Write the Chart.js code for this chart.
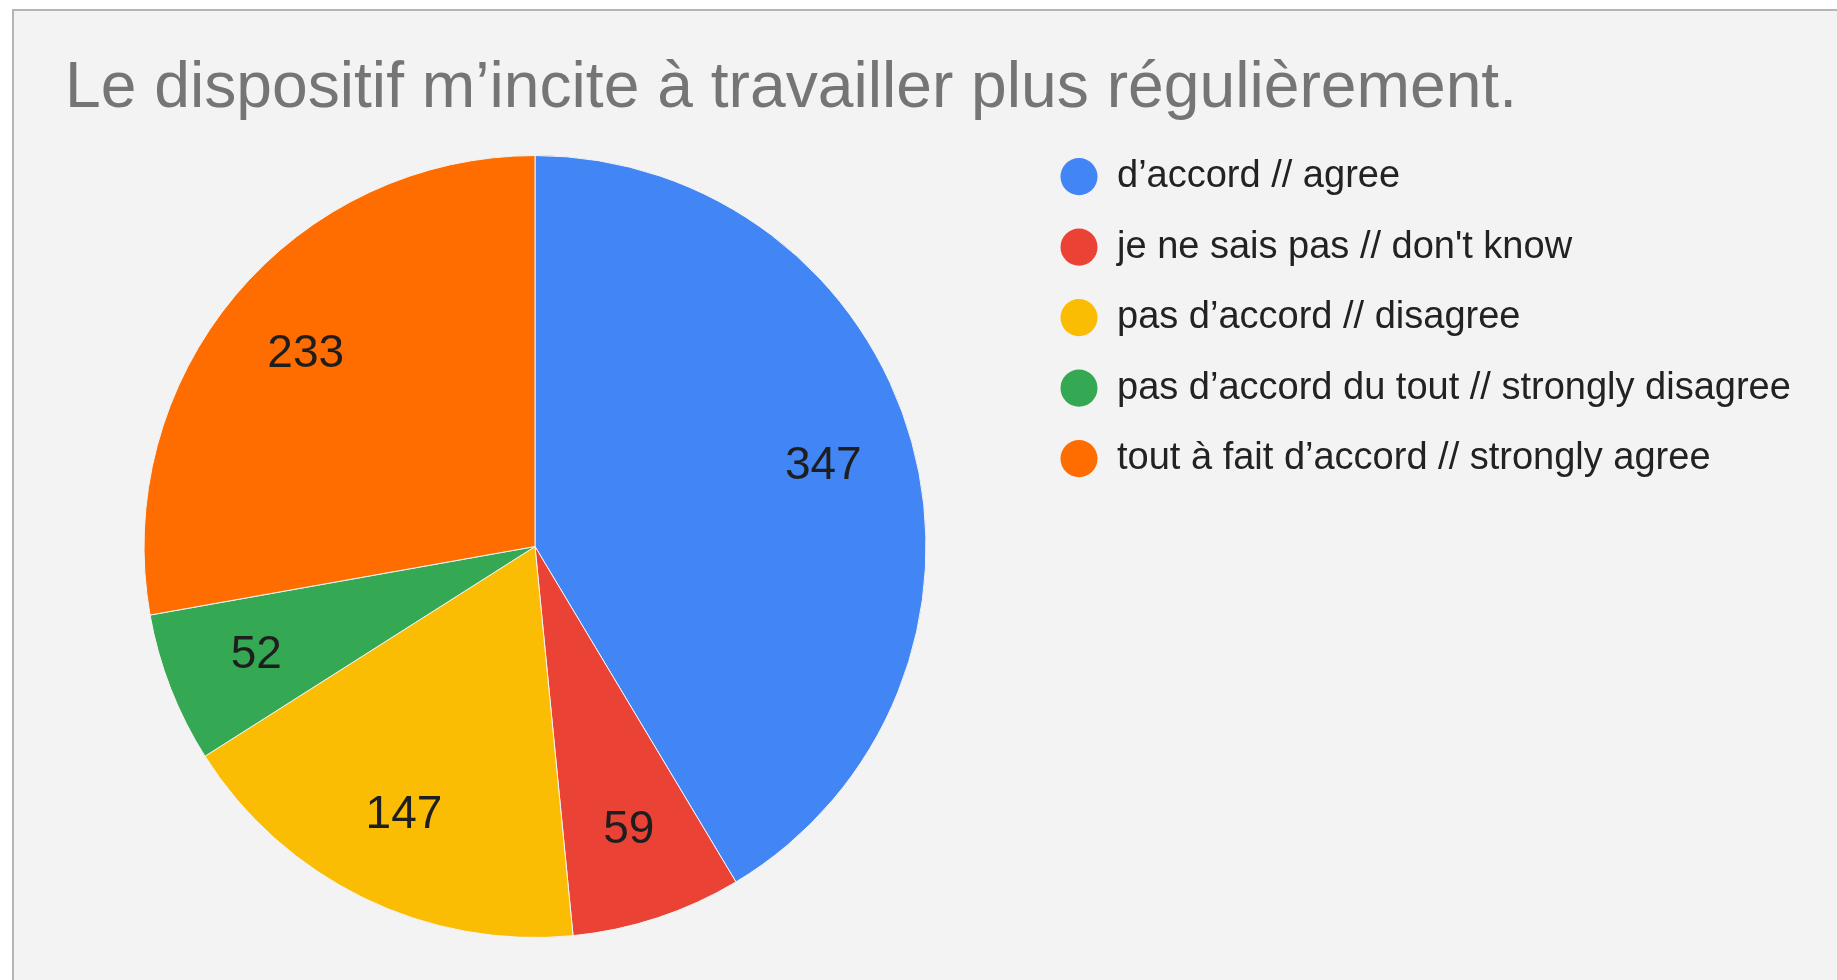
<!DOCTYPE html>
<html>
<head>
<meta charset="utf-8">
<script src="https://cdn.jsdelivr.net/npm/chart.js@4.4.1/dist/chart.umd.min.js"></script>
<style>
  html, body { margin: 0; padding: 0; background: #fff; overflow: hidden; }
  #panel {
    position: absolute; left: 12px; top: 9px; width: 1825px; height: 971px;
    background: #f3f3f3; border-left: 2px solid #b5b5b5; border-top: 2px solid #b5b5b5;
    box-sizing: border-box;
  }
  #chart { position: absolute; left: 0; top: 0; }
</style>
</head>
<body>
<div id="panel"></div>
<canvas id="chart" width="1837" height="980"></canvas>
<script>
// chart data
const titleText = 'Le dispositif m’incite à travailler plus régulièrement.';
const categories = [
  'd’accord // agree',
  'je ne sais pas // don\'t know',
  'pas d’accord // disagree',
  'pas d’accord du tout // strongly disagree',
  'tout à fait d’accord // strongly agree'
];
const counts = [347, 59, 147, 52, 233];
const sliceColors = ['#4285f4', '#ea4335', '#fbbc04', '#34a853', '#ff6d01'];

const FONT = '"Liberation Sans", Arial, sans-serif';
Chart.defaults.font.family = FONT;

// legend sizing: keep the legend's left edge at x=1005 so the pie sits at x=535
const legendPad = 55;
const legendFont = 38;
const measure = document.createElement('canvas').getContext('2d');
measure.font = legendFont + 'px ' + FONT;
const longest = Math.max(...categories.map(c => measure.measureText(c).width));
const legendWidth = legendPad + legendFont * 1.5 + longest + 10;
const padRight = Math.max(0, 1837 - 1005 - legendWidth);

// draws the count inside each slice
const sliceLabels = {
  id: 'sliceLabels',
  afterDatasetsDraw(chart) {
    const ctx = chart.ctx;
    const meta = chart.getDatasetMeta(0);
    ctx.save();
    ctx.font = '46px ' + FONT;
    ctx.fillStyle = '#1e1e1e';
    ctx.textAlign = 'center';
    ctx.textBaseline = 'middle';
    meta.data.forEach((arc, i) => {
      const p = arc.getProps(['x', 'y', 'startAngle', 'endAngle', 'outerRadius']);
      const mid = (p.startAngle + p.endAngle) / 2;
      const r = p.outerRadius * 0.765;
      ctx.fillText(String(counts[i]), p.x + Math.cos(mid) * r, p.y + Math.sin(mid) * r);
    });
    ctx.restore();
  }
};

const baseLabels = Chart.overrides.doughnut.plugins.legend.labels.generateLabels;

new Chart(document.getElementById('chart'), {
  type: 'pie',
  data: {
    labels: categories,
    datasets: [{
      data: counts,
      backgroundColor: sliceColors,
      borderColor: '#f3f3f3',
      borderWidth: 1,
      radius: 391
    }]
  },
  options: {
    responsive: false,
    animation: false,
    layout: { padding: { left: 65, right: padRight, top: 0, bottom: 15 } },
    plugins: {
      title: {
        display: true,
        text: titleText,
        align: 'start',
        color: '#757575',
        font: { size: 64.2, weight: 'normal', lineHeight: 1.2 },
        padding: { top: 51, bottom: 0 }
      },
      legend: {
        position: 'right',
        align: 'start',
        title: { display: true, text: '', padding: { top: 92.6, bottom: 0 }, font: { size: 10, lineHeight: 1 } },
        labels: {
          usePointStyle: true,
          pointStyle: 'circle',
          boxWidth: legendFont,
          boxHeight: 26.2,
          padding: legendPad,
          color: '#222',
          font: { size: legendFont, lineHeight: 15.5 / legendFont },
          generateLabels(chart) {
            return baseLabels(chart).map(item => Object.assign(item, { text: [item.text], lineWidth: 0 }));
          }
        }
      },
      tooltip: { enabled: false }
    }
  },
  plugins: [sliceLabels]
});
</script>
</body>
</html>
